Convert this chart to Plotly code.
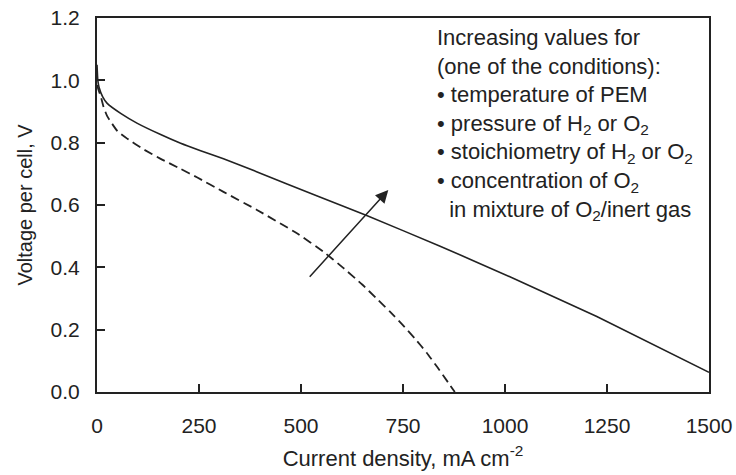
import plotly.graph_objects as go

# Solid curve (higher condition values)
cur_solid = [0, 2, 5, 14, 25, 58, 99, 156, 205, 254, 310, 391, 543, 661, 841, 1020, 1225, 1500]
v_solid = [1.05, 1.0, 0.978, 0.947, 0.926, 0.894, 0.862, 0.826, 0.798, 0.774, 0.748, 0.707, 0.627, 0.566, 0.468, 0.365, 0.242, 0.063]

# Dashed curve (lower condition values)
cur_dash = [0, 4, 9, 16, 25, 50, 74, 115, 156, 205, 246, 310, 391, 489, 555, 602, 650, 683, 718, 748, 779, 808, 834, 877]
v_dash = [0.985, 0.968, 0.95, 0.915, 0.885, 0.837, 0.813, 0.778, 0.748, 0.716, 0.688, 0.642, 0.585, 0.510, 0.450, 0.400, 0.345, 0.303, 0.258, 0.217, 0.172, 0.126, 0.080, 0.0]

x_ticks = [0, 250, 500, 750, 1000, 1250, 1500]
y_ticks = [0.0, 0.2, 0.4, 0.6, 0.8, 1.0, 1.2]
y_labels = ["0.0", "0.2", "0.4", "0.6", "0.8", "1.0", "1.2"]

arrow_tail = (518, 0.365)
arrow_tip = (714, 0.648)

note_lines = [
    "Increasing values for",
    "(one of the conditions):",
    "• temperature of PEM",
    "• pressure of H<sub>2</sub> or O<sub>2</sub>",
    "• stoichiometry of H<sub>2</sub> or O<sub>2</sub>",
    "• concentration of O<sub>2</sub>",
    "\u00a0\u00a0in mixture of O<sub>2</sub>/inert gas",
]

FONT = "Liberation Sans, Arial, sans-serif"
INK = "#222222"

fig = go.Figure()
fig.add_trace(go.Scatter(x=cur_solid, y=v_solid, mode="lines",
                         line=dict(color=INK, width=1.6, shape="spline", smoothing=0.4),
                         showlegend=False))
fig.add_trace(go.Scatter(x=cur_dash, y=v_dash, mode="lines",
                         line=dict(color=INK, width=1.8, dash="9px,5px", shape="spline", smoothing=0.4),
                         showlegend=False))

fig.add_annotation(x=arrow_tip[0], y=arrow_tip[1], ax=arrow_tail[0], ay=arrow_tail[1],
                   xref="x", yref="y", axref="x", ayref="y",
                   text="", showarrow=True, arrowhead=2, arrowsize=1.7, arrowwidth=1.5,
                   arrowcolor=INK)

fig.add_annotation(x=0.553, y=0.987, xref="paper", yref="paper",
                   xanchor="left", yanchor="top", align="left", showarrow=False,
                   text="<br>".join(note_lines),
                   font=dict(family=FONT, size=22, color=INK))

fig.update_layout(
    width=736, height=475,
    margin=dict(l=97, r=27, t=18, b=83),
    paper_bgcolor="white", plot_bgcolor="white",
    font=dict(family=FONT, size=21, color=INK),
)
fig.update_xaxes(range=[0, 1500], tickvals=x_ticks, ticks="inside", ticklen=8, tickwidth=2,
                 tickcolor=INK, showline=True, linecolor=INK, linewidth=2, mirror=True,
                 showgrid=False, zeroline=False, ticklabelstandoff=14, automargin=False,
                 ticklabeloverflow="allow",
                 title=dict(text="Current density, mA cm<sup>-2</sup>", standoff=14,
                            font=dict(size=22)))
fig.update_yaxes(range=[0, 1.2], tickvals=y_ticks, ticktext=y_labels, ticks="inside",
                 ticklen=8, tickwidth=2, tickcolor=INK, showline=True, linecolor=INK,
                 linewidth=2, mirror=True, showgrid=False, zeroline=False,
                 ticklabelstandoff=11, automargin=False, ticklabeloverflow="allow",
                 title=dict(text="Voltage per cell, V", standoff=13, font=dict(size=20)))

fig.write_html("out.html", config={"displayModeBar": False},
               post_script="document.body.style.margin='0px';document.body.style.overflow='hidden';")
